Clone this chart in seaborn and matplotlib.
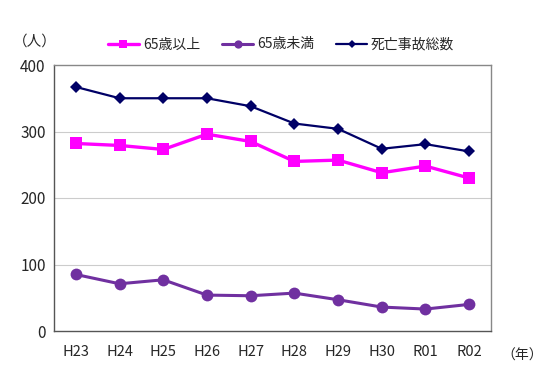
import seaborn as sns
import matplotlib.pyplot as plt
import pandas as pd

years = ['H23', 'H24', 'H25', 'H26', 'H27', 'H28', 'H29', 'H30', 'R01', 'R02']
over65 = [282, 279, 273, 296, 285, 255, 257, 238, 248, 230]
under65 = [85, 71, 77, 54, 53, 57, 47, 36, 33, 40]
total = [367, 350, 350, 350, 338, 312, 304, 274, 281, 270]

series_names = ['65歳以上', '65歳未満', '死亡事故総数']
y_ticks = [0, 100, 200, 300, 400]

df = pd.DataFrame({'year': years, series_names[0]: over65,
                   series_names[1]: under65, series_names[2]: total})
df['pos'] = range(len(years))

sns.set_style('white')
plt.rcParams['font.family'] = ['Noto Sans CJK JP', 'DejaVu Sans']

fig = plt.figure(figsize=(5.5, 3.81), dpi=100)
ax = fig.add_axes([54 / 550, 50 / 381, 437 / 550, 266 / 381])

styles = {
    '65歳以上': dict(color='#FF00FF', marker='s', markersize=8, linewidth=2.4),
    '65歳未満': dict(color='#7030A0', marker='o', markersize=8.5, linewidth=2.2),
    '死亡事故総数': dict(color='#000066', marker='D', markersize=6, linewidth=1.6),
}
for name in series_names:
    st = styles[name]
    sns.lineplot(data=df, x='pos', y=name, ax=ax, label=name,
                 color=st['color'], marker=st['marker'], markersize=st['markersize'],
                 linewidth=st['linewidth'], markeredgewidth=0)

ax.set_xlim(-0.5, len(years) - 0.5)
ax.set_ylim(0, 400)
ax.set_yticks(y_ticks)
ax.set_yticklabels([str(v) for v in y_ticks], fontsize=11)
ax.set_xticks(range(len(years)))
ax.set_xticklabels(years, fontsize=10.5)
ax.tick_params(axis='x', length=0, pad=10)
ax.tick_params(axis='y', length=0, pad=6)
# small inward ticks on category boundaries
ax.set_xticks([i + 0.5 for i in range(len(years) - 1)], minor=True)
ax.tick_params(axis='x', which='minor', direction='in', length=4, color='#777777')

for v in y_ticks[1:-1]:
    ax.axhline(v, color='#cccccc', linewidth=0.8, zorder=0)
for sp in ax.spines.values():
    sp.set_color('#888888')
    sp.set_linewidth(1.0)
ax.spines['bottom'].set_color('#555555')
ax.spines['left'].set_color('#555555')

ax.set_xlabel('')
ax.set_ylabel('')
ax.legend(loc='lower center', bbox_to_anchor=(0.52, 1.03), ncol=3, frameon=False,
          fontsize=10, handlelength=2.2, columnspacing=1.6, handletextpad=0.3,
          borderaxespad=0, markerscale=0.7)

fig.text(35 / 550, 1 - 42 / 381, '（人）', fontsize=10.5, ha='center', va='center')
fig.text(522 / 550, 1 - 356 / 381, '（年）', fontsize=10, ha='center', va='center')

fig.savefig('out.png', dpi=100)
